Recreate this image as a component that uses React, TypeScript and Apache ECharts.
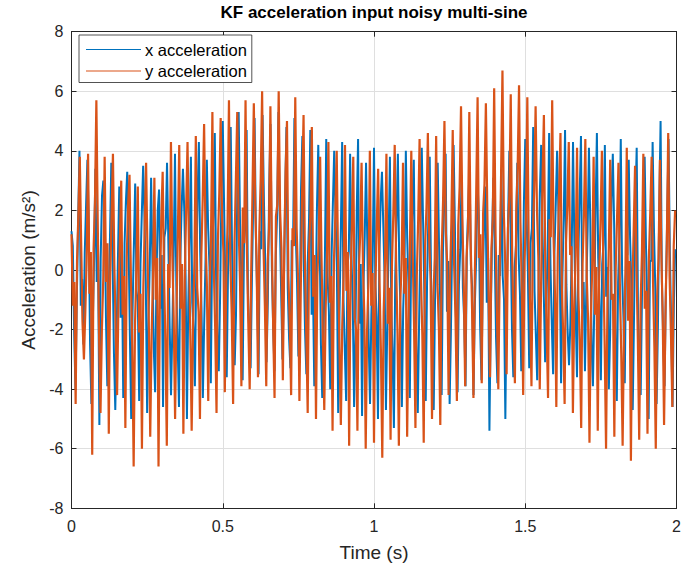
import React, { useEffect, useRef } from "react";
import * as echarts from "echarts";

// ---- data ----
const xTicks = [0, 0.5, 1, 1.5, 2];
const yTicks = [-8, -6, -4, -2, 0, 2, 4, 6, 8];

// y acceleration: one entry per oscillation cycle
// (peak, falling mid 1, falling mid 2, trough, rising mid 1, rising mid 2)
const oPeak = [1.2,3.8,3.9,5.7,3.8,3.9,3.0,3.2,2.8,3.6,3.1,3.3,4.3,4.2,4.3,4.5,4.9,5.3,5.1,5.7,5.3,5.7,5.6,6.0,5.5,6.0,5.0,5.8,5.2,4.8,3.8,4.3,4.0,4.2,3.8,3.6,4.0,3.4,3.9,4.2,3.6,4.0,4.4,4.6,4.5,5.0,4.7,5.5,5.3,5.8,5.6,6.1,6.7,5.9,6.2,5.8,5.5,5.2,5.7,4.6,4.3,4.1,4.4,3.8,4.0,3.7,3.6,4.1,3.5,3.9,3.8,3.7,4.6];
const oDown = [-1.2,0.9,-0.8,1.6,-0.4,0.2,-1.5,-0.3,-2.1,0.6,-1.0,-0.2,0.5,-1.3,0.8,-0.6,1.2,0.1,1.8,0.3,1.5,0.6,2.2,0.8,1.1,2.0,-0.2,1.4,0.3,-0.9,0.4,-1.1,0.2,-0.7,-1.6,0.1,-1.2,-0.4,-1.8,0.3,-0.8,0.6,-0.3,1.0,-0.5,1.3,0.2,1.7,0.9,0.4,2.1,1.2,1.9,0.6,1.6,0.8,2.0,0.1,1.1,-0.6,0.5,-0.9,-0.2,-1.5,0.3,-1.0,-0.5,-1.7,0.2,-1.3,-0.4,0.6,-0.2];
const oDown2 = [-0.4,-1.8,0.6,-2.3,0.9,-2.0,-0.2,-2.6,-0.8,-1.9,0.4,-2.4,-1.6,0.2,-2.1,-1.4,-0.5,-1.9,0.6,-1.5,-0.4,-1.8,0.3,-1.2,-1.9,0.7,-1.7,-0.3,-2.2,0.5,-2.3,-0.2,-2.6,0.6,-2.0,-1.5,-0.1,-2.7,-0.6,-2.1,0.4,-1.9,-2.2,-0.4,-2.0,0.2,-1.6,-0.5,-1.3,1.2,-0.9,-1.4,0.2,-1.8,-0.6,-1.2,0.4,-2.0,-0.8,-2.2,0.8,-2.4,-1.7,0.1,-2.5,-0.8,-2.8,0.3,-2.3,-0.7,-2.6,-1.5,-2.2];
const oTrough = [-4.5,-3.0,-6.2,-4.8,-5.5,-4.2,-5.3,-6.6,-6.0,-5.6,-6.6,-5.9,-5.0,-5.5,-5.4,-5.0,-4.4,-4.8,-4.1,-4.5,-3.9,-4.0,-3.6,-3.9,-4.3,-3.7,-4.2,-4.4,-4.8,-5.0,-4.7,-5.4,-5.2,-5.9,-5.4,-6.0,-5.8,-6.3,-5.7,-5.9,-5.6,-5.3,-5.8,-5.0,-5.2,-4.2,-4.4,-3.9,-4.3,-3.8,-3.6,-4.0,-3.5,-3.8,-4.2,-3.9,-4.0,-4.3,-4.6,-4.5,-4.8,-5.3,-5.8,-5.4,-6.0,-5.6,-5.9,-6.4,-5.7,-5.5,-6.0,-5.2,-4.6];
const oUp = [0.3,-1.4,0.7,-2.0,-0.2,-1.1,0.4,-1.8,-0.6,-2.2,-0.9,0.2,-1.4,-0.3,-1.9,0.5,-0.7,1.0,-0.4,0.9,2.1,-0.3,1.3,0.2,1.8,0.5,1.4,-0.6,0.7,-0.2,-1.3,0.3,-1.9,-0.5,-0.1,-2.0,-0.6,-1.4,0.2,-1.1,-1.7,-0.2,0.8,-0.9,0.6,-0.4,1.5,0.4,-0.2,1.9,0.7,-0.1,1.4,2.0,0.3,1.2,-0.4,1.7,0.4,0.9,-1.2,0.2,-1.6,-0.3,-1.1,0.1,-1.9,-0.7,-1.2,0.4,-0.9,-1.5,0.8];
const oUp2 = [1.9,0.4,2.3,-0.3,1.8,0.9,2.2,0.1,1.5,-0.2,1.7,-0.6,1.2,2.0,0.3,2.4,1.1,2.6,1.6,3.0,0.9,2.5,3.1,1.4,2.2,3.3,0.8,2.7,1.9,1.0,0.6,1.8,-0.2,1.6,1.2,-0.4,1.5,0.3,1.9,0.2,0.8,1.7,2.1,0.4,2.3,1.6,2.8,1.3,2.6,2.9,1.7,3.2,2.5,3.4,1.8,2.7,3.0,1.1,2.6,2.2,0.5,1.9,0.1,1.6,0.7,1.8,-0.1,1.3,0.6,1.9,0.4,0.9,2.0];

// x acceleration: one entry per oscillation cycle
const bPeak = [1.3,4.0,3.7,3.4,3.0,3.6,2.8,3.3,2.9,3.5,3.1,2.7,3.6,3.9,3.4,3.8,4.3,3.7,4.6,5.0,4.8,5.3,4.7,5.1,5.2,4.9,5.3,4.8,5.1,4.5,4.7,4.2,4.4,4.0,4.3,3.9,4.4,3.6,4.1,3.3,3.8,3.9,4.0,3.7,4.1,3.8,3.6,3.9,4.2,3.2,3.5,3.0,2.8,3.1,3.4,4.0,3.6,4.4,4.8,4.2,4.6,4.0,4.7,4.3,4.5,4.1,4.6,4.2,3.9,4.4,3.7,4.1,3.8,4.3,5.0,4.4];
const bDown = [0.8,-1.2,1.5,-0.4,2.1,0.3,-1.6,1.0,-0.7,1.8,0.2,-1.3,0.9,-0.5,2.0,-1.1,0.6,1.4,-0.3,2.2,0.7,1.6,-0.8,1.1,2.4,0.1,1.7,-0.6,1.3,0.4,-1.5,1.2,-0.2,1.9,-1.0,0.5,-1.8,0.8,-0.4,1.5,-1.2,0.3,1.1,-0.9,1.6,-0.3,0.9,-1.4,1.4,-0.6,0.2,1.8,-1.1,0.7,-0.2,1.2,0.5,1.9,-0.7,1.3,0.2,2.0,-0.5,1.0,-1.3,1.7,0.4,-0.9,1.5,-0.1,1.1,-1.6,0.8,1.4,-0.4,0.6];
const bDown2 = [-2.1,-0.3,-2.5,0.6,-1.7,-2.8,0.2,-2.2,-1.1,-0.4,-2.6,0.5,-1.9,-2.4,-0.2,-2.0,-1.3,0.1,-2.3,-0.6,-1.8,-0.2,-2.1,-1.0,0.3,-1.9,-0.7,-2.3,-0.4,-2.0,-0.6,-2.5,-1.4,0.1,-2.7,-1.2,0.2,-2.4,-1.6,-0.3,-2.8,-1.5,-0.5,-2.6,-0.9,-2.2,-1.3,0.3,-2.4,-1.7,-0.6,-1.9,0.4,-2.3,-1.0,-2.0,-0.8,-0.1,-2.2,-0.9,-1.8,0.2,-2.1,-1.4,-0.4,-2.5,-1.2,0.1,-2.3,-1.6,-0.5,-2.7,-1.1,-0.6,-2.4,-1.8];
const bTrough = [-4.0,-2.5,-4.5,-5.2,-3.9,-4.7,-4.3,-5.0,-4.4,-4.8,-4.1,-4.6,-4.2,-4.6,-5.0,-3.9,-4.3,-3.8,-3.4,-3.6,-3.2,-3.7,-3.3,-3.5,-3.1,-3.4,-3.0,-3.3,-2.9,-3.5,-3.9,-4.3,-4.0,-4.8,-4.4,-4.6,-4.9,-4.5,-5.0,-4.7,-5.3,-4.6,-4.3,-4.8,-4.4,-4.7,-4.2,-4.5,-4.1,-3.9,-4.2,-3.7,-5.4,-3.8,-5.0,-3.6,-3.4,-3.3,-3.7,-3.1,-3.5,-3.8,-3.2,-3.6,-3.4,-3.9,-3.7,-4.0,-4.4,-3.8,-4.7,-4.2,-5.0,-4.5,-3.9,-4.6];
const bUp = [-1.0,0.6,-1.9,0.4,-0.8,-2.2,0.9,-1.4,0.2,-1.7,-0.5,1.1,-2.0,0.3,-1.2,-0.1,-1.8,0.7,-0.9,0.1,-1.5,0.8,-0.3,1.3,-1.0,0.5,-0.7,1.0,-1.6,0.2,-1.1,-2.1,0.4,-1.4,0.1,-2.3,-0.6,-1.5,0.3,-1.9,-0.2,-1.3,0.6,-1.7,-0.4,-1.0,0.7,-2.0,-0.5,0.8,-1.2,-0.3,-1.6,0.5,-0.9,0.1,-1.4,0.9,-0.6,-1.1,0.6,-0.2,-1.8,0.4,-0.7,-1.3,0.2,-2.1,-0.4,0.5,-1.5,-0.8,0.3,-1.9,-0.6,-1.2];
const bUp2 = [1.6,2.2,0.3,2.5,1.1,0.4,2.3,0.8,1.9,0.2,2.0,1.4,0.5,2.1,1.0,2.4,0.3,1.8,2.6,1.2,2.9,1.5,2.3,0.7,2.8,1.9,2.4,0.9,2.7,1.6,2.1,0.4,2.2,1.3,0.6,2.0,1.1,0.3,2.3,0.9,1.7,0.2,2.1,1.0,1.8,0.5,2.4,1.2,0.7,2.0,0.4,1.6,1.1,-0.2,1.5,0.8,2.3,1.4,2.6,1.0,2.2,1.7,0.6,2.5,1.3,2.0,0.9,2.4,1.1,0.5,2.2,1.5,0.3,2.1,1.8,0.7];

const T_END = 2;

function buildSeries(rows: number[][]) {
  // rows: arrays in the order the signal visits them inside one cycle
  const n = rows[0].length;
  const m = rows.length;
  const p = T_END / n;
  const out: number[][] = [];
  for (let k = 0; k < n; k++) {
    for (let j = 0; j < m; j++) {
      out.push([k * p + (j * p) / m, rows[j][k]]);
    }
  }
  return out;
}

const FONT = "'Liberation Sans', Arial, Helvetica, sans-serif";
const AX = "#262626";
const GRID = "#dfdfdf";

export default function App() {
  const ref = useRef<HTMLDivElement>(null);
  useEffect(() => {
    if (!ref.current) return;
    const chart = echarts.init(ref.current, undefined, { renderer: "svg" });
    const xData = buildSeries([bPeak, bDown, bDown2, bTrough, bUp, bUp2]);
    const yData = buildSeries([oPeak, oDown, oDown2, oTrough, oUp, oUp2]);
    const baseX = {
      type: "value" as const,
      min: xTicks[0],
      max: xTicks[xTicks.length - 1],
      interval: 0.5,
    };
    const baseY = {
      type: "value" as const,
      min: yTicks[0],
      max: yTicks[yTicks.length - 1],
      interval: 2,
    };
    chart.setOption({
      animation: false,
      backgroundColor: "#ffffff",
      title: {
        text: "KF acceleration input noisy multi-sine",
        left: 374,
        top: 4,
        padding: 0,
        textAlign: "center",
        textStyle: { fontFamily: FONT, fontSize: 17, fontWeight: "bold", color: "#000" },
      },
      legend: {
        orient: "vertical",
        left: 79,
        top: 35,
        padding: [6, 5, 3, 7],
        itemGap: 4.5,
        itemWidth: 55,
        itemHeight: 14,
        icon: "path://M0,0H55V1.2H0Z",
        symbolKeepAspect: true,
        backgroundColor: "#ffffff",
        borderColor: AX,
        borderWidth: 0.8,
        borderRadius: 0,
        textStyle: { fontFamily: FONT, fontSize: 16.5, color: "#000", padding: [0, 0, 0, -1] },
        data: ["x acceleration", "y acceleration"],
      },
      grid: { left: 71.5, right: 20.5, top: 31.7, bottom: 60.7, containLabel: false },
      xAxis: [
        {
          ...baseX,
          position: "bottom",
          name: "Time (s)",
          nameLocation: "middle",
          nameGap: 35,
          nameTextStyle: { fontFamily: FONT, fontSize: 19, color: AX },
          axisLine: { show: true, onZero: false, lineStyle: { color: AX, width: 1 } },
          axisTick: { show: true, inside: true, length: 5, lineStyle: { color: AX } },
          axisLabel: { fontFamily: FONT, fontSize: 16, color: AX, margin: 10 },
          splitLine: { show: true, lineStyle: { color: GRID, width: 1 } },
        },
        {
          ...baseX,
          position: "top",
          axisLine: { show: true, onZero: false, lineStyle: { color: AX, width: 1 } },
          axisTick: { show: true, inside: true, length: 5, lineStyle: { color: AX } },
          axisLabel: { show: false },
          splitLine: { show: false },
        },
      ],
      yAxis: [
        {
          ...baseY,
          position: "left",
          name: "Acceleration (m/s²)",
          nameLocation: "middle",
          nameGap: 30,
          nameRotate: 90,
          nameTextStyle: { fontFamily: FONT, fontSize: 19, color: AX },
          axisLine: { show: true, onZero: false, lineStyle: { color: AX, width: 1 } },
          axisTick: { show: true, inside: true, length: 5, lineStyle: { color: AX } },
          axisLabel: { fontFamily: FONT, fontSize: 16, color: AX, margin: 8 },
          splitLine: { show: true, lineStyle: { color: GRID, width: 1 } },
        },
        {
          ...baseY,
          position: "right",
          axisLine: { show: true, onZero: false, lineStyle: { color: AX, width: 1 } },
          axisTick: { show: true, inside: true, length: 5, lineStyle: { color: AX } },
          axisLabel: { show: false },
          splitLine: { show: false },
        },
      ],
      series: [
        {
          name: "x acceleration",
          type: "line",
          data: xData,
          symbol: "none",
          lineStyle: { color: "#0072BD", width: 2 },
          itemStyle: { color: "#0072BD" },
          z: 2,
        },
        {
          name: "y acceleration",
          type: "line",
          data: yData,
          symbol: "none",
          lineStyle: { color: "#D95319", width: 2.2 },
          itemStyle: { color: "#D95319" },
          z: 3,
        },
      ],
    });
    return () => chart.dispose();
  }, []);
  return <div ref={ref} style={{ width: 697, height: 569, position: "absolute", left: 0, top: 0 }} />;
}
